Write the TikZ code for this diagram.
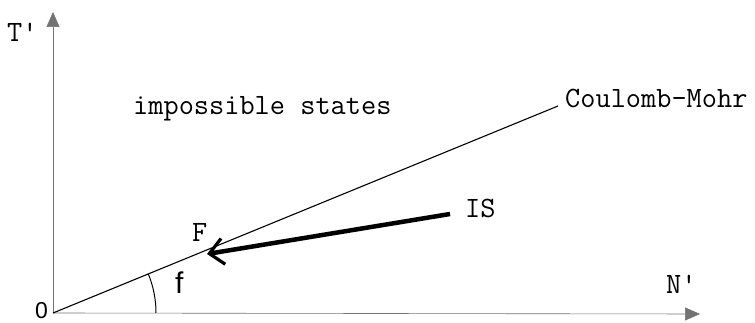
\documentclass[tikz,border=0pt]{standalone}
\usepackage{fontspec}
\setmainfont{Liberation Sans}
\usetikzlibrary{arrows.meta,calc}
\tikzset{
  axis/.style={draw=black!55, line width=0.6pt},
  lbl/.style={inner sep=0pt, anchor=base west, font=\ttfamily\fontsize{29.5}{32}\selectfont},
  slbl/.style={inner sep=0pt, anchor=base west},
  cmline/.style={draw=black, line width=1.1pt},
  movearrow/.style={draw=black, line width=4.5pt, -{Straight Barb[length=14pt, width=26pt, line width=3.2pt]}}
}
\begin{document}
\begin{tikzpicture}[x=1pt,y=-1pt]
\useasboundingbox (0,0) rectangle (755,323);
\coordinate (O) at (53,313);
\coordinate (Ytip) at (53,12);
\coordinate (Xtip) at (700,314);
\coordinate (CMend) at (558,106);
\coordinate (ISs) at (450,214);
\coordinate (Fe) at (207,254);
% axes
\draw[axis, -{Triangle[length=15pt, width=13pt]}] (O) -- (Ytip);
\draw[axis, -{Triangle[length=15pt, width=13pt]}] (O) -- (Xtip);
% Coulomb-Mohr line
\draw[cmline] (O) -- (CMend);
% angle arc
\draw[line width=1pt] ($(O)+(103,0)$) arc[start angle=0, end angle=-22.2, radius=103];
% loading path
\draw[movearrow] (ISs) -- (Fe);
% labels
\node[lbl] (Tl) at (7,42) {T'};
\node[lbl] (Nl) at (666,293) {N'};
\node[lbl] (imp) at (133,115) {impossible states};
\node[lbl] (cm) at (565,108) {Coulomb-Mohr};
\node[lbl] (is) at (465,218) {IS};
\node[lbl] (F) at (192,241) {F};
\node[slbl, font=\fontsize{23}{26}\selectfont] (zero) at (35,318) {0};
\node[slbl, font=\fontsize{30}{34}\selectfont] (f) at (175,293) {f};
\end{tikzpicture}
\end{document}
